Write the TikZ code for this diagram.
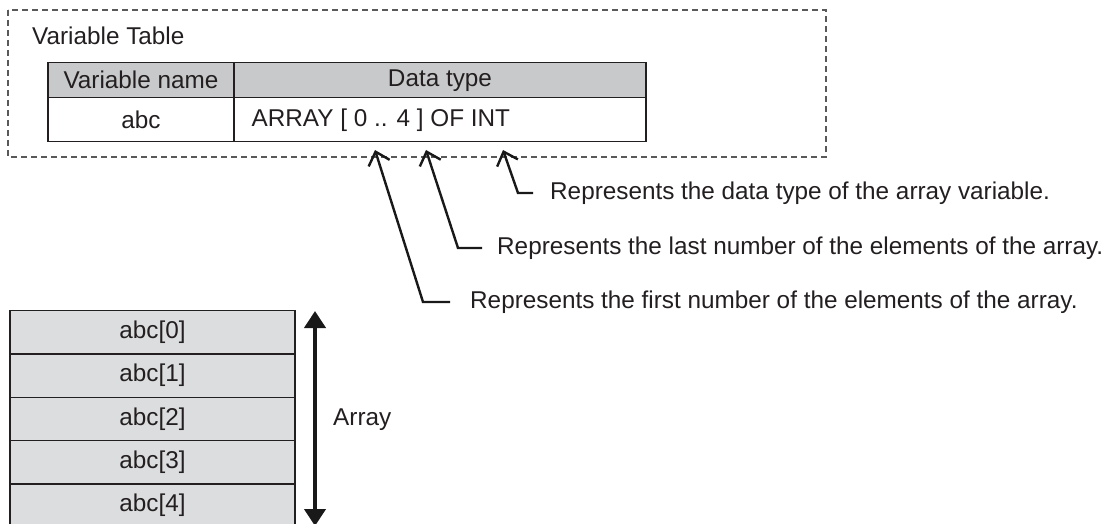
\documentclass[tikz,border=0pt]{standalone}
\usepackage{fontspec}
\setmainfont{Liberation Sans}
\usetikzlibrary{arrows.meta}
\definecolor{txt}{HTML}{231F20}
\definecolor{hdr}{HTML}{C8C9CA}
\definecolor{arr}{HTML}{DCDDDE}
\begin{document}
\begin{tikzpicture}[x=1pt,y=-1pt,
  every node/.style={text=txt,font=\fontsize{24.3}{29}\selectfont},
  cell/.style={draw=txt,line width=1.4pt,anchor=north west,inner sep=0pt,outer sep=0pt},
  frame/.style={draw=black!65,line width=1.2pt,dash pattern=on 6pt off 4pt},
  annot/.style={draw=black!90,line width=2.4pt,line join=miter,{Straight Barb[length=12pt,width=22pt]}-},
  note/.style={anchor=west,inner sep=0pt},
  span/.style={draw=black!90,line width=4pt,{Triangle[length=17pt,width=21pt]}-{Triangle[length=17pt,width=21pt]}}]
\useasboundingbox (0,0) rectangle (1104,524);
\clip (0,0) rectangle (1104,524);
% dashed frame
\draw[frame] (8,10) rectangle (826,157);
\node[anchor=west,inner sep=0pt] (title) at (32,36) {Variable Table};
% table
\node[cell,fill=hdr,minimum width=186pt,minimum height=35pt] (hname) at (48,62.7) {Variable name};
\node[cell,fill=hdr,minimum width=412pt,minimum height=35pt] (htype) at (234,62.7) {Data type};
\node[cell,fill=white,minimum width=186pt,minimum height=44pt] (vname) at (48,97.7) {abc};
\node[cell,fill=white,minimum width=412pt,minimum height=44pt] (vtype) at (234,97.7) {};
\node[anchor=west,inner sep=0pt] (typetxt) at (251.5,120) {ARRAY [ 0 .. 4 ] OF INT};
% annotations
\coordinate (tip1) at (375,150);
\coordinate (tip2) at (426,150);
\coordinate (tip3) at (503,150);
\node[note] (n3) at (550,193) {Represents the data type of the array variable.};
\node[note] (n2) at (497,248) {Represents the last number of the elements of the array.};
\node[note] (n1) at (470,302) {Represents the first number of the elements of the array.};
\coordinate (k3) at (518,193);
\coordinate (k2) at (458,248);
\coordinate (k1) at (423,302);
\coordinate (e3) at (533,193);
\coordinate (e2) at (482,248);
\coordinate (e1) at (450,302);
\draw[annot] (tip3) -- (k3) -- (e3);
\draw[annot] (tip2) -- (k2) -- (e2);
\draw[annot] (tip1) -- (k1) -- (e1);
% array
\foreach \i in {0,...,4}{
  \node[cell,fill=arr,minimum width=285pt,minimum height=43.3pt] (a\i) at (10,310.7+43.3*\i) {abc[\i]};
}
\coordinate (top) at (315,311);
\coordinate (bot) at (315,526);
\draw[span] (top) -- (bot);
\node[anchor=west,inner sep=0pt] (lbl) at (333,420) {Array};
\end{tikzpicture}
\end{document}
